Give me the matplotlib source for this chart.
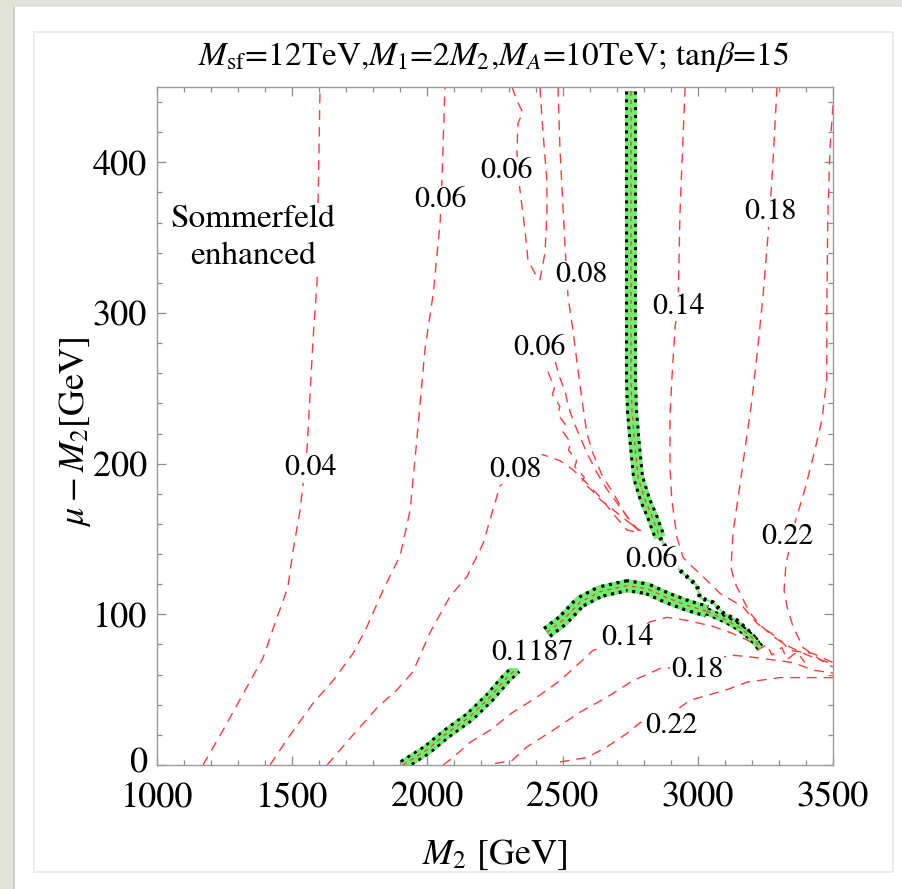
import matplotlib
matplotlib.use('Agg')
import matplotlib.pyplot as plt
from matplotlib.patches import Rectangle
from matplotlib.ticker import MultipleLocator
from matplotlib.transforms import ScaledTranslation

plt.rcParams['font.family'] = ['STIXGeneral', 'DejaVu Serif']
plt.rcParams['mathtext.fontset'] = 'stix'
plt.rcParams['lines.scale_dashes'] = False

# ---------------- data (M2 [GeV], mu-M2 [GeV]) ----------------
c004_x = [1170, 1244, 1318, 1392, 1444, 1484, 1503, 1529, 1555, 1566, 1577, 1592, 1595, 1603]
c004_y = [0, 23, 47, 71, 98, 118, 142, 169, 210, 246, 282, 321, 365, 450]

c006a_x = [1418, 1481, 1577, 1651, 1725, 1777, 1836, 1899, 1936, 1961, 1991, 2021, 2047, 2054, 2065]
c006a_y = [0, 17, 41, 56, 74, 92, 116, 139, 169, 216, 276, 312, 360, 389, 450]

c008a_x = [1629, 1725, 1814, 1888, 1947, 2010, 2084, 2146, 2206, 2268, 2324, 2427, 2490, 2538, 2590, 2638, 2686, 2738, 2786]
c008a_y = [0, 20, 38, 50, 62, 88, 112, 125, 147, 185, 196, 206, 202, 196, 187, 178, 167, 156, 154]

c006b_x = [2313, 2331, 2353, 2335, 2331, 2342, 2361, 2372, 2405, 2416, 2435, 2442, 2442, 2427, 2416]
c006b_y = [450, 441, 433, 426, 407, 382, 355, 335, 324, 322, 340, 366, 388, 421, 450]

c008b_x = [2483, 2490, 2509, 2520, 2538, 2557, 2572, 2590, 2612, 2649, 2686, 2723, 2760, 2786]
c008b_y = [450, 410, 344, 311, 289, 262, 242, 220, 207, 191, 181, 169, 159, 155]

c006c_x = [2472, 2490, 2509, 2520, 2538, 2564, 2590, 2627, 2664, 2701, 2738, 2775, 2805]
c006c_y = [268, 257, 248, 239, 229, 218, 207, 194, 183, 174, 165, 157, 154]

c006d_x = [2446, 2470, 2462, 2490, 2482, 2510, 2502, 2530, 2522, 2552, 2545, 2580, 2572, 2610, 2640, 2683, 2731, 2775]
c006d_y = [261, 250, 246, 238, 233, 226, 221, 214, 209, 202, 198, 191, 188, 182, 176, 170, 163, 157]

c014a_x = [2953, 2934, 2927, 2916, 2904, 2897, 2897, 2904, 2923, 2945, 2971, 3008, 3082, 3167, 3219, 3267, 3304, 3341, 3426, 3500]
c014a_y = [450, 366, 303, 291, 256, 231, 198, 176, 151, 138, 133, 127, 114, 105, 94, 88, 83, 76, 74, 68]

c018a_x = [3293, 3274, 3259, 3241, 3222, 3200, 3174, 3148, 3130, 3123, 3137, 3167, 3193, 3230, 3274, 3322, 3378, 3433, 3500]
c018a_y = [450, 388, 350, 311, 277, 242, 209, 176, 154, 131, 121, 110, 101, 93, 86, 80, 75, 71, 67]

c022a_x = [3500, 3489, 3481, 3477, 3477, 3459, 3429, 3396, 3363, 3341, 3326, 3319, 3330, 3352, 3389, 3452, 3500]
c022a_y = [438, 410, 366, 300, 256, 229, 206, 183, 163, 146, 133, 116, 105, 92, 78, 70, 65]

c014b_x = [2058, 2095, 2157, 2231, 2316, 2405, 2490, 2564, 2612, 2738, 2823, 2886, 2960, 3056, 3119, 3182, 3230]
c014b_y = [0, 5, 15, 23, 35, 45, 56, 68, 76, 84, 95, 98, 96, 92, 88, 83, 78]

c018b_x = [2250, 2313, 2368, 2464, 2564, 2664, 2760, 2860, 2997, 3119, 3182, 3267, 3352, 3426, 3500]
c018b_y = [1, 3, 12, 23, 35, 45, 56, 64, 66, 73, 72, 70, 68, 63, 61]

c022b_x = [2490, 2590, 2664, 2738, 2786, 2901, 2972, 3108, 3182, 3304, 3426, 3500]
c022b_y = [2, 5, 12, 21, 28, 34, 43, 50, 55, 58, 58, 58]

noise_x = [3219, 3256, 3274, 3311, 3330, 3367, 3396]
noise_y = [76, 80, 73, 78, 70, 75, 68]

# relic-density band (Omega h^2 = 0.1187)
g_up_x = [2753, 2753, 2753, 2757, 2768, 2779, 2805, 2831, 2849, 2860]
g_up_y = [447, 342, 256, 234, 211, 191, 176, 165, 156, 151]
g_tail_x = [2860, 2890, 2923, 2960, 2997, 3008, 3056, 3093, 3145, 3182, 3219, 3230]
g_tail_y = [151, 142, 131, 125, 119, 111, 108, 101, 96, 90, 83, 78]
g_low1_x = [1910, 1998, 2072, 2157, 2231, 2294, 2330]
g_low1_y = [0, 10, 21, 32, 45, 58, 64]
g_low2_x = [2442, 2501, 2564, 2638, 2738, 2812, 2886, 2960, 3034]
g_low2_y = [88, 96, 108, 115, 119, 117, 111, 106, 102]
g_low3_x = [3034, 3108, 3156, 3204, 3230]
g_low3_y = [102, 96, 91, 84, 78]

labels_txt = ['0.04', '0.06', '0.06', '0.08', '0.06', '0.08', '0.14', '0.18', '0.22',
              '0.06', '0.1187', '0.14', '0.18', '0.22']
labels_x = [1566, 2047, 2294, 2568, 2413, 2324, 2927, 3267, 3330, 2827, 2390, 2738, 2997, 2901]
labels_y = [197, 375, 394, 325, 277, 196, 304, 367, 151, 136, 74, 84, 63, 26]

x_ticks = [1000, 1500, 2000, 2500, 3000, 3500]
y_ticks = [0, 100, 200, 300, 400]

# ---------------- figure ----------------
W, H = 903, 889
fig = plt.figure(figsize=(W / 100, H / 100), dpi=100)
fig.patch.set_facecolor('#e2e3d8')
fig.patches.append(Rectangle((14 / W, 0), 1, 1 - 7 / H, transform=fig.transFigure,
                             facecolor='white', edgecolor='none', zorder=-10))
fig.patches.append(Rectangle((13 / W, 0), 2 / W, 1 - 7 / H, transform=fig.transFigure,
                             facecolor='#cfcfc6', edgecolor='none', zorder=-9))
fig.patches.append(Rectangle((34 / W, 1 - 872 / H), (893 - 34) / W, (872 - 32) / H,
                             transform=fig.transFigure, facecolor='none',
                             edgecolor='#e8e8e8', lw=1.2, zorder=-8))

ax = fig.add_axes([157 / W, 1 - 765 / H, 676 / W, 678 / H])
ax.set_zorder(5)
ax.set_xlim(1000, 3500)
ax.set_ylim(0, 450)

red = '#ff3a3a'
dash = (7.0, 5.0)
contours = [(c004_x, c004_y), (c006a_x, c006a_y), (c008a_x, c008a_y), (c006b_x, c006b_y),
            (c008b_x, c008b_y), (c006c_x, c006c_y), (c006d_x, c006d_y), (c014a_x, c014a_y),
            (c018a_x, c018a_y), (c022a_x, c022a_y), (c014b_x, c014b_y), (c018b_x, c018b_y),
            (c022b_x, c022b_y), (noise_x, noise_y)]
for cx, cy in contours:
    ax.plot(cx, cy, color=red, lw=1.0, dashes=dash, zorder=2)

green = '#70ee70'
def band(x, y, width_px):
    wpt = width_px * 0.72
    ax.plot(x, y, color=green, lw=wpt, solid_capstyle='butt', zorder=3)
    ax.plot(x, y, color='black', lw=wpt, dashes=(2.2, 3.4), dash_capstyle='butt', zorder=4)
    ax.plot(x, y, color=green, lw=wpt * 0.5, solid_capstyle='butt', zorder=5)
    ax.plot(x, y, color=red, lw=0.9, dashes=(3, 3), zorder=6)

band(g_up_x, g_up_y, 12)
band(g_low1_x, g_low1_y, 11)
band(g_low2_x, g_low2_y, 13)
band(g_low3_x, g_low3_y, 8)
ax.plot(g_tail_x, g_tail_y, color=green, lw=1.6, zorder=3)
ax.plot(g_tail_x, g_tail_y, color='black', lw=3.0, dashes=(2.2, 3.4), dash_capstyle='butt', zorder=4)

for t, x, y in zip(labels_txt, labels_x, labels_y):
    ax.text(x, y, t, fontsize=21.5, ha='center', va='center', zorder=8,
            bbox=dict(facecolor='white', edgecolor='none', pad=0.5))

ax.text(1355, 350, 'Sommerfeld\nenhanced', fontsize=24, ha='center', va='center',
        linespacing=1.35, zorder=8, bbox=dict(facecolor='white', edgecolor='none', pad=1))

# axes styling
ax.set_xticks(x_ticks)
ax.set_yticks(y_ticks)
ax.xaxis.set_minor_locator(MultipleLocator(100))
ax.yaxis.set_minor_locator(MultipleLocator(20))
ax.tick_params(which='both', direction='in', top=True, right=True, color='#8a8a8a', width=0.9,
               labelsize=26)
ax.tick_params(axis='x', which='both', pad=12)
ax.tick_params(axis='y', which='both', pad=7)
ax.tick_params(which='major', length=6.5)
ax.tick_params(which='minor', length=3.6)
for s in ax.spines.values():
    s.set_color('#9a9a9a')
    s.set_linewidth(1.0)

fig.canvas.draw()
ylabs = ax.get_yticklabels()
ylabs[0].set_transform(ylabs[0].get_transform() + ScaledTranslation(0, 4 / 72, fig.dpi_scale_trans))

fig.text(494 / W, 1 - 57 / H, r'$M_{\rm sf}$=12TeV,$M_1$=2$M_2$,$M_A$=10TeV; tan$\beta$=15',
         fontsize=24, ha='center', va='center')
fig.text(495 / W, 1 - 855 / H, r'$M_2$ [GeV]', fontsize=26, ha='center', va='center')
fig.text(75 / W, 1 - 432 / H, r'$\mu - M_2$[GeV]', fontsize=26, ha='center', va='center',
         rotation=90)

fig.savefig('out.png', dpi=100, facecolor=fig.get_facecolor())
